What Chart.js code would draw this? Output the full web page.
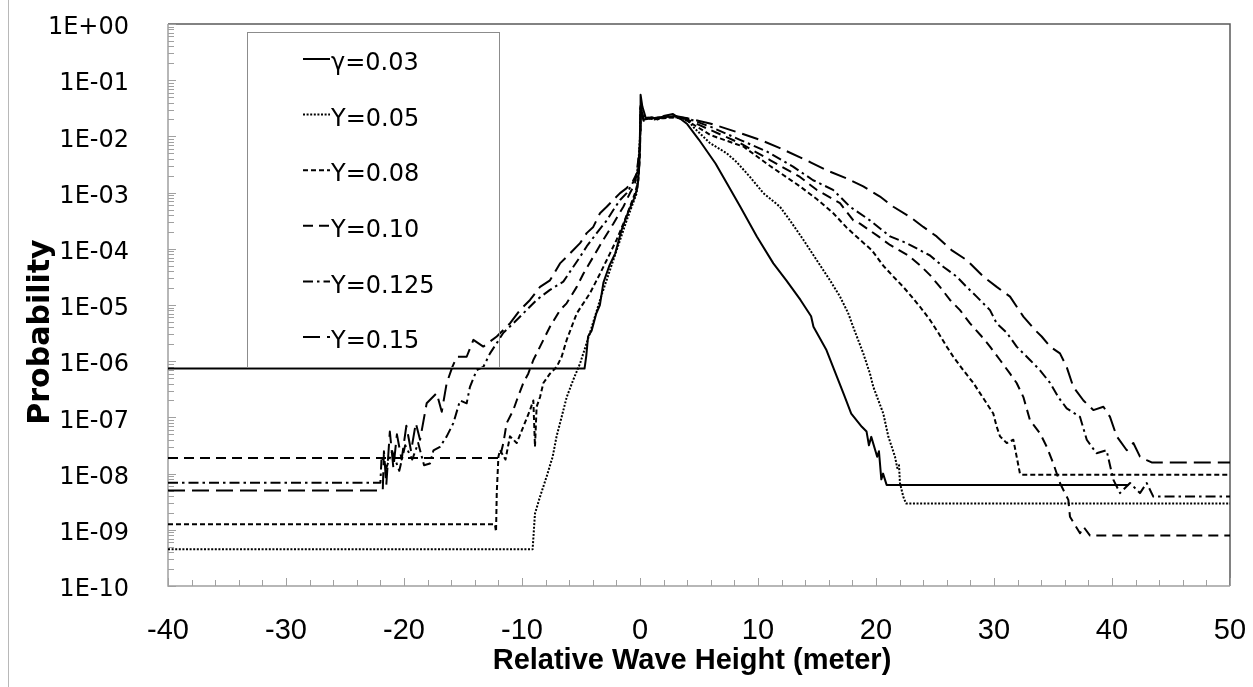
<!DOCTYPE html>
<html>
<head>
<meta charset="utf-8">
<script src="https://cdn.jsdelivr.net/npm/chart.js@4.4.0/dist/chart.umd.min.js"></script>
<style>
  html, body { margin: 0; padding: 0; background: #ffffff; }
  #wrap { position: relative; width: 1253px; height: 687px; overflow: hidden; }
  #wrap canvas { position: absolute; left: 0; top: 0; }
  #edge { position: absolute; left: 8px; top: 0; width: 1px; height: 687px; background: #b8b8b8; }
</style>
</head>
<body>
<div id="wrap">
  <canvas id="chart" width="1253" height="687"></canvas>
  <div id="edge"></div>
</div>
<script>
// Exceedance probability of relative wave height for six steepness values.
const seriesLabels = ['γ=0.03', 'Y=0.05', 'Y=0.08', 'Y=0.10', 'Y=0.125', 'Y=0.15'];
const xAxisTitle = 'Relative Wave Height (meter)';
const yAxisTitle = 'Probability';

const xTickLabels = ['-40', '-30', '-20', '-10', '0', '10', '20', '30', '40', '50'];
const yTickLabels = ['1E+00', '1E-01', '1E-02', '1E-03', '1E-04', '1E-05',
                     '1E-06', '1E-07', '1E-08', '1E-09', '1E-10'];

// γ = 0.03
const g03X = [-40, -4.7, -4.55, -4.4, -4.1, -3.7, -3.4, -3.1, -2.6, -2.1,
              -1.55, -1.0, -0.5, -0.2, -0.05, 0, 0.05, 0.2, 0.5, 1.0,
              1.5, 2.0, 2.8, 3.5, 4.0, 5.0, 6.4, 7.35, 8.5, 9.9,
              11.3, 12.4, 13.6, 14.5, 14.7, 15.8, 16.7, 17.3, 17.9, 18.8,
              19.2, 19.4, 19.6, 20.1, 20.25, 20.45, 20.6, 20.9, 41.4];
const g03P = [7.4e-7, 7.4e-7, 1.26e-6, 2.75e-6, 3.5e-6, 7.1e-6, 1.0e-5, 2.5e-5, 5.0e-5, 8.3e-5,
              2.2e-4, 4.5e-4, 7.9e-4, 1.26e-3, 3.2e-3, 1.26e-2, 5.5e-2, 3.4e-2, 2.1e-2, 2.2e-2,
              2.0e-2, 2.3e-2, 2.5e-2, 2.0e-2, 1.66e-2, 8.7e-3, 3.3e-3, 1.48e-3, 5.6e-4, 1.66e-4,
              5.5e-5, 2.75e-5, 1.23e-5, 6.3e-6, 4.1e-6, 1.58e-6, 5.2e-7, 2.5e-7, 1.17e-7, 6.8e-8,
              5.6e-8, 3.2e-8, 4.5e-8, 2.0e-8, 2.5e-8, 7.9e-9, 1.0e-8, 6.3e-9, 6.3e-9];

// Y = 0.05
const g05X = [-40, -9.1, -8.9, -8.47, -7.91, -7.40, -7.07, -6.64, -6.21, -5.65,
              -5.08, -4.24, -3.3, -2.26, -1.13, -0.28, 0, 0.05, 0.2, 0.5,
              1.2, 2.0, 3.0, 4.0, 4.6, 5.93, 7.35, 8.19, 9.32, 10.45,
              11.86, 12.71, 13.84, 14.97, 16.10, 16.95, 17.65, 18.08, 18.92, 19.49,
              19.77, 20.62, 21.04, 21.61, 21.8, 21.95, 22.03, 22.31, 22.54, 50];
const g05P = [4.5e-10, 4.5e-10, 1.95e-9, 3.9e-9, 8.9e-9, 2.0e-8, 4.6e-8, 1.02e-7, 2.3e-7, 4.7e-7,
              9.1e-7, 3.2e-6, 1.41e-5, 6.3e-5, 3.2e-4, 9.8e-4, 1.0e-2, 3.5e-2, 2.5e-2, 2.2e-2,
              2.0e-2, 2.2e-2, 2.2e-2, 2.0e-2, 1.41e-2, 7.6e-3, 5.0e-3, 3.5e-3, 1.9e-3, 9.8e-4,
              5.6e-4, 3.2e-4, 1.45e-4, 6.3e-5, 2.75e-5, 1.41e-5, 7.1e-6, 4.0e-6, 1.38e-6, 6.0e-7,
              3.5e-7, 1.17e-7, 4.6e-8, 2.0e-8, 1.26e-8, 1.41e-8, 6.8e-9, 3.9e-9, 2.95e-9, 2.95e-9];

// Y = 0.08
const g08X = [-40, -12.3, -12.2, -12.14, -12.0, -11.86, -11.4, -11.02, -10.45, -9.89,
              -9.32, -9.04, -8.90, -8.76, -8.47, -8.19, -7.63, -7.06, -6.64, -6.21,
              -5.36, -4.24, -3.39, -2.54, -1.98, -1.41, -0.85, -0.42, -0.14, 0,
              0.05, 0.3, 1.0, 2.0, 3.0, 4.0, 5.0, 6.0, 8.76, 11.0,
              13.56, 15.0, 16.38, 17.5, 18.64, 19.63, 20.62, 21.47, 22.31, 23.02,
              23.73, 24.58, 25.28, 25.99, 26.55, 27.40, 28.25, 28.81, 29.38, 29.94,
              30.23, 30.51, 31.08, 31.64, 31.92, 32.20, 32.35, 50];
const g08P = [1.26e-9, 1.26e-9, 9.3e-10, 4.5e-9, 2.0e-8, 2.6e-8, 1.78e-8, 4.6e-8, 3.5e-8, 6.8e-8,
              1.35e-7, 2.0e-7, 3.0e-8, 1.55e-7, 2.3e-7, 4.1e-7, 6.0e-7, 7.9e-7, 1.2e-6, 2.4e-6,
              7.1e-6, 1.62e-5, 3.6e-5, 8.3e-5, 1.45e-4, 2.8e-4, 5.6e-4, 9.8e-4, 1.66e-3, 5.0e-3,
              3.2e-2, 2.0e-2, 2.1e-2, 2.1e-2, 2.2e-2, 1.9e-2, 1.41e-2, 1.05e-2, 6.6e-3, 3.0e-3,
              1.29e-3, 7.6e-4, 4.3e-4, 2.4e-4, 1.45e-4, 9.5e-5, 5.0e-5, 3.2e-5, 2.1e-5, 1.41e-5,
              9.3e-6, 5.4e-6, 3.2e-6, 1.82e-6, 1.2e-6, 6.9e-7, 4.1e-7, 2.7e-7, 1.78e-7, 1.17e-7,
              6.8e-8, 4.6e-8, 3.5e-8, 4.0e-8, 2.0e-8, 1.0e-8, 9.5e-9, 9.5e-9];

// Y = 0.10
const g10X = [-40, -11.9, -11.86, -11.58, -11.3, -10.74, -10.45, -9.89, -9.47, -9.04,
              -8.47, -7.63, -6.78, -6.22, -5.36, -4.80, -3.96, -3.11, -2.26, -1.41,
              -0.85, -0.42, 0, 0.05, 0.3, 1.0, 2.0, 3.0, 4.0, 6.0,
              8.47, 11.02, 13.56, 14.97, 16.95, 18.08, 18.64, 20.2, 21.19, 22.74,
              23.73, 24.58, 25.42, 26.27, 27.12, 27.97, 28.96, 29.66, 30.51, 31.36,
              31.92, 32.49, 33.05, 33.90, 34.47, 35.03, 35.59, 36.30, 36.44, 37.29,
              37.6, 38.14, 50];
const g10P = [1.9e-8, 1.9e-8, 2.0e-8, 3.5e-8, 7.9e-8, 1.35e-7, 2.0e-7, 4.1e-7, 6.0e-7, 1.05e-6,
              1.82e-6, 4.1e-6, 8.1e-6, 1.07e-5, 2.1e-5, 3.6e-5, 7.2e-5, 1.45e-4, 2.8e-4, 5.6e-4,
              9.8e-4, 1.45e-3, 6.3e-3, 3.2e-2, 1.9e-2, 2.1e-2, 2.2e-2, 2.3e-2, 2.0e-2, 1.29e-2,
              7.6e-3, 3.8e-3, 1.9e-3, 1.12e-3, 6.5e-4, 3.2e-4, 2.8e-4, 1.66e-4, 1.17e-4, 7.6e-5,
              5.1e-5, 3.4e-5, 2.1e-5, 1.23e-5, 8.1e-6, 4.7e-6, 2.75e-6, 1.82e-6, 1.05e-6, 6.0e-7,
              4.1e-7, 2.3e-7, 8.9e-8, 5.2e-8, 3.0e-8, 1.51e-8, 6.8e-9, 3.4e-9, 1.7e-9, 8.7e-10,
              1.12e-9, 7.9e-10, 7.9e-10];

// Y = 0.125
const g125X = [-40, -22.0, -21.9, -21.5, -21.0, -20.4, -19.9, -19.3, -18.8, -18.3,
               -17.8, -17.5, -16.95, -16.38, -15.82, -15.25, -14.69, -14.41, -13.84, -13.28,
               -12.71, -12.14, -11.58, -10.74, -9.89, -8.76, -7.63, -6.5, -5.65, -5.08,
               -4.52, -3.67, -2.82, -2.26, -1.69, -1.13, -0.7, -0.28, 0, 0.05,
               0.3, 1.0, 2.0, 3.0, 4.0, 6.0, 8.47, 10.73, 12.97, 14.67,
               16.36, 17.80, 19.49, 21.19, 22.60, 24.58, 25.70, 26.84, 27.68, 28.53,
               29.66, 30.23, 31.08, 31.92, 33.05, 33.90, 34.75, 35.45, 36.16, 37.29,
               37.86, 38.69, 39.54, 40.11, 40.68, 41.53, 42.37, 42.94, 43.5, 50];
const g125P = [6.9e-9, 6.9e-9, 2.0e-8, 1.26e-8, 2.5e-8, 1.12e-8, 3.2e-8, 1.78e-8, 3.5e-8, 1.41e-8,
               1.51e-8, 2.6e-8, 3.0e-8, 4.6e-8, 7.9e-8, 2.0e-7, 1.78e-7, 3.5e-7, 6.9e-7, 7.9e-7,
               1.38e-6, 2.1e-6, 3.2e-6, 4.7e-6, 7.1e-6, 1.23e-5, 1.86e-5, 2.6e-5, 4.8e-5, 7.2e-5,
               1.1e-4, 1.9e-4, 3.2e-4, 4.9e-4, 7.4e-4, 9.8e-4, 1.38e-3, 2.0e-3, 6.3e-3, 3.2e-2,
               2.0e-2, 2.1e-2, 2.2e-2, 2.2e-2, 2.1e-2, 1.48e-2, 8.7e-3, 5.4e-3, 2.9e-3, 1.66e-3,
               1.12e-3, 5.6e-4, 3.2e-4, 1.66e-4, 1.26e-4, 7.6e-5, 4.8e-5, 3.2e-5, 2.1e-5, 1.41e-5,
               8.1e-6, 4.7e-6, 3.2e-6, 1.82e-6, 1.05e-6, 6.9e-7, 4.1e-7, 2.3e-7, 1.45e-7, 1.02e-7,
               4.0e-8, 2.3e-8, 2.6e-8, 7.8e-9, 4.5e-9, 6.8e-9, 4.5e-9, 6.8e-9, 3.9e-9, 3.9e-9];

// Y = 0.15
const g15X = [-40, -21.8, -21.7, -21.5, -21.2, -20.9, -20.6, -20.2, -19.8, -19.4,
              -19.0, -18.64, -18.08, -17.23, -16.8, -16.38, -15.9, -15.53, -14.69, -14.12,
              -13.28, -12.14, -11.02, -10.17, -9.32, -8.47, -7.63, -6.78, -6.21, -5.65,
              -5.08, -4.52, -3.96, -3.39, -2.82, -2.26, -1.69, -1.13, -0.56, -0.14,
              0, 0.05, 0.3, 1.0, 2.0, 3.0, 4.0, 5.93, 8.47, 10.17,
              11.86, 14.41, 15.82, 17.52, 18.92, 20.34, 21.47, 22.88, 24.01, 25.14,
              26.4, 27.68, 29.10, 30.23, 31.36, 32.49, 33.47, 34.04, 34.75, 35.59,
              36.16, 36.72, 37.58, 38.42, 39.27, 39.83, 40.40, 41.25, 41.81, 42.37,
              42.94, 43.36, 50];
const g15P = [5.0e-9, 5.0e-9, 2.5e-8, 6.3e-9, 5.6e-8, 1.26e-8, 5.0e-8, 1.78e-8, 7.1e-8, 2.5e-8,
              7.9e-8, 4.0e-8, 1.78e-7, 2.7e-7, 1.26e-7, 4.1e-7, 7.9e-7, 1.2e-6, 1.2e-6, 2.4e-6,
              1.82e-6, 2.75e-6, 4.7e-6, 8.1e-6, 1.23e-5, 2.1e-5, 2.75e-5, 5.5e-5, 7.2e-5, 9.5e-5,
              1.26e-4, 1.9e-4, 2.45e-4, 4.3e-4, 5.6e-4, 7.4e-4, 9.8e-4, 1.2e-3, 1.66e-3, 2.5e-3,
              7.9e-3, 3.5e-2, 2.0e-2, 2.1e-2, 2.2e-2, 2.3e-2, 2.1e-2, 1.7e-2, 1.15e-2, 8.7e-3,
              6.2e-3, 3.5e-3, 2.5e-3, 1.78e-3, 1.29e-3, 8.5e-4, 5.6e-4, 3.7e-4, 2.45e-4, 1.66e-4,
              9.5e-5, 6.3e-5, 3.2e-5, 2.1e-5, 1.41e-5, 6.2e-6, 3.6e-6, 2.75e-6, 1.82e-6, 1.38e-6,
              7.9e-7, 3.5e-7, 2.0e-7, 1.35e-7, 1.55e-7, 1.02e-7, 4.6e-8, 2.6e-8, 3.5e-8, 2.0e-8,
              1.74e-8, 1.58e-8, 1.58e-8];

const seriesX = [g03X, g05X, g08X, g10X, g125X, g15X];
const seriesP = [g03P, g05P, g08P, g10P, g125P, g15P];
const dashes = [[], [2, 1.6], [5, 3], [10, 6], [10, 4, 2.5, 4], [17, 7]];
const widths = [2, 2, 2, 2, 2, 2];

const datasets = seriesLabels.map((label, i) => ({
  label,
  data: seriesX[i].map((x, k) => ({ x, y: seriesP[i][k] })),
  showLine: true,
  borderColor: '#000000',
  backgroundColor: '#000000',
  borderWidth: widths[i],
  borderDash: dashes[i],
  borderCapStyle: 'butt',
  borderJoinStyle: 'round',
  pointRadius: 0,
  pointHoverRadius: 0,
  tension: 0,
  fill: false
}));

// Axis frame with inward tick marks, drawn from the scales.
const framePlugin = {
  id: 'frame',
  beforeDatasetsDraw(chart) {
    const { ctx, chartArea: { left, right, top, bottom }, scales: { x, y } } = chart;
    ctx.save();
    ctx.lineWidth = 1.5;
    ctx.strokeStyle = '#5a5a5a';
    ctx.beginPath();
    ctx.moveTo(left, top); ctx.lineTo(right, top); ctx.lineTo(right, bottom);
    ctx.stroke();
    ctx.strokeStyle = '#a0a0a0';
    ctx.beginPath();
    ctx.moveTo(left, top); ctx.lineTo(left, bottom); ctx.lineTo(right, bottom);
    ctx.stroke();
    ctx.lineWidth = 1;
    ctx.beginPath();
    for (let e = 0; e >= -10; e--) {
      for (let m = 1; m <= 9; m++) {
        const v = m * Math.pow(10, e);
        if (v > 1 || v < 1e-10) continue;
        const py = Math.round(y.getPixelForValue(v)) + 0.5;
        const len = m === 1 ? 8 : 6;
        ctx.moveTo(left, py); ctx.lineTo(left + len, py);
      }
    }
    for (let v = -40; v <= 50; v += 2) {
      const px = Math.round(x.getPixelForValue(v)) + 0.5;
      const len = v % 10 === 0 ? 8 : 6;
      ctx.moveTo(px, bottom); ctx.lineTo(px, bottom - len);
    }
    ctx.stroke();
    ctx.restore();
  }
};

// Axis titles, placed relative to the plot area.
const axisTitles = {
  id: 'axisTitles',
  afterDraw(chart) {
    const { ctx, chartArea: { left, right, top, bottom } } = chart;
    ctx.save();
    ctx.fillStyle = '#000000';
    ctx.textAlign = 'center';
    ctx.textBaseline = 'middle';
    ctx.font = 'bold 29px "Liberation Sans"';
    ctx.fillText(xAxisTitle, (left + right) / 2 - 7, bottom + 75);
    ctx.translate(left - 127, (top + bottom) / 2 + 27);
    ctx.rotate(-Math.PI / 2);
    ctx.font = 'bold 30px "DejaVu Sans"';
    ctx.fillText(yAxisTitle, 0, 0);
    ctx.restore();
  }
};

// Boxed legend inside the plot area.
const legendBox = {
  id: 'legendBox',
  afterDraw(chart) {
    const { ctx, chartArea: { left, top } } = chart;
    const bx = left + 79, by = top + 8, bw = 252, bh = 335;
    ctx.save();
    ctx.strokeStyle = '#8c8c8c';
    ctx.lineWidth = 1;
    ctx.strokeRect(bx + 0.5, by + 0.5, bw, bh);
    ctx.font = '24px "DejaVu Sans"';
    ctx.fillStyle = '#000000';
    ctx.textBaseline = 'middle';
    chart.data.datasets.forEach((ds, i) => {
      const cy = by + 32 + i * 55.6;
      ctx.strokeStyle = '#000000';
      ctx.lineWidth = ds.borderWidth;
      ctx.setLineDash(ds.borderDash);
      ctx.beginPath();
      ctx.moveTo(bx + 56, cy - 5); ctx.lineTo(bx + 83, cy - 5);
      ctx.stroke();
      ctx.setLineDash([]);
      ctx.fillText(ds.label, bx + 84, cy);
    });
    ctx.restore();
  }
};

new Chart(document.getElementById('chart'), {
  type: 'scatter',
  data: { datasets },
  plugins: [framePlugin, axisTitles, legendBox],
  options: {
    responsive: false,
    animation: false,
    devicePixelRatio: 1,
    layout: { padding: { left: 0, right: 23, top: 24, bottom: 0 } },
    plugins: { legend: { display: false }, tooltip: { enabled: false } },
    scales: {
      x: {
        type: 'linear',
        min: -40, max: 50,
        afterFit(scale) {
          scale.height = 101;
          scale.paddingLeft = 0; scale.paddingRight = 0;
        },
        afterBuildTicks(scale) {
          scale.ticks = xTickLabels.map(t => ({ value: Number(t) }));
        },
        ticks: {
          autoSkip: false,
          maxRotation: 0,
          padding: 20,
          color: '#000000',
          font: { family: '"Liberation Sans"', size: 29 },
          callback: (v) => xTickLabels[xTickLabels.indexOf(String(v))]
        },
        grid: { display: false },
        border: { display: false },
        title: { display: false }
      },
      y: {
        type: 'logarithmic',
        min: 1e-10, max: 1,
        afterFit(scale) {
          scale.width = 168;
          scale.paddingTop = 0; scale.paddingBottom = 0;
        },
        afterBuildTicks(scale) {
          scale.ticks = yTickLabels.map((t, i) => ({ value: Math.pow(10, -i), major: true }));
        },
        ticks: {
          autoSkip: false,
          padding: 31,
          labelOffset: 4,
          color: '#000000',
          font: { family: '"DejaVu Sans"', size: 24 },
          callback: (v) => yTickLabels[Math.round(-Math.log10(v))]
        },
        grid: { display: false },
        border: { display: false },
        title: { display: false }
      }
    }
  }
});
</script>
</body>
</html>
